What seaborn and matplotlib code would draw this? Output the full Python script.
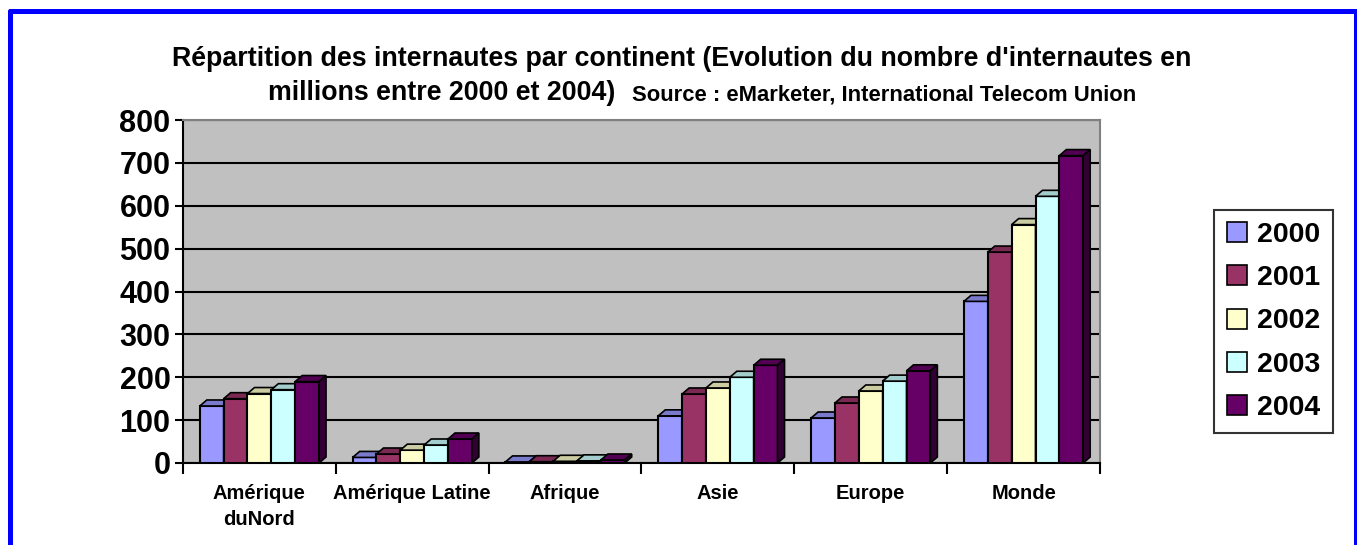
import numpy as np
import pandas as pd
import matplotlib
matplotlib.use("Agg")
import matplotlib.pyplot as plt
import matplotlib.colors as mcolors
from matplotlib.patches import Polygon
from matplotlib.lines import Line2D
import seaborn as sns

# data (millions d'internautes)
continents = ["Amérique\nduNord", "Amérique Latine", "Afrique", "Asie", "Europe", "Monde"]
years = ["2000", "2001", "2002", "2003", "2004"]
v2000 = [133, 13, 2.5, 110, 105, 377]
v2001 = [150, 21, 3, 161, 140, 492]
v2002 = [162, 30, 4, 175, 168, 556]
v2003 = [171, 42, 5, 200, 191, 622]
v2004 = [190, 56, 7, 228, 215, 717]
colors = ["#9999FF", "#993366", "#FFFFCC", "#CCFFFF", "#660066"]

rows = []
for yr, vals in zip(years, [v2000, v2001, v2002, v2003, v2004]):
    for c, v in zip(continents, vals):
        rows.append({"continent": c, "annee": yr, "valeur": v})
df = pd.DataFrame(rows)

sns.set_theme(style="white")
plt.rcParams["font.family"] = ["Liberation Sans", "DejaVu Sans"]
plt.rcParams["text.color"] = "black"
plt.rcParams["xtick.color"] = "black"
plt.rcParams["ytick.color"] = "black"

W, H = 1357, 545
fig = plt.figure(figsize=(W / 100, H / 100), dpi=100)
ax_l, ax_r, ax_t, ax_b = 183, 1100, 120, 463
ax = fig.add_axes([ax_l / W, 1 - ax_b / H, (ax_r - ax_l) / W, (ax_b - ax_t) / H])
ax.set_facecolor("#C0C0C0")

sns.barplot(data=df, x="continent", y="valeur", hue="annee", palette=colors,
            width=0.78, saturation=1, edgecolor="black", linewidth=1.5, ax=ax)

ax.set_xlim(-0.5, 5.5)
ax.set_ylim(0, 800)

# fake 3D tops / sides like the old excel chart
dx = 7 / ((ax_r - ax_l) / 6)
dy = 6 / ((ax_b - ax_t) / 800)
for k, cont in enumerate(ax.containers):
    base = np.array(mcolors.to_rgb(colors[k]))
    for bar in cont:
        x, w, h = bar.get_x(), bar.get_width(), bar.get_height()
        bar.set_zorder(3 + k)
        top = Polygon([(x, h), (x + w, h), (x + w + dx, h + dy), (x + dx, h + dy)],
                      closed=True, fc=base * 0.8, ec="black", lw=1.2, zorder=3 + k)
        side = Polygon([(x + w, 0), (x + w, h), (x + w + dx, h + dy), (x + w + dx, dy)],
                       closed=True, fc=base * 0.5, ec="black", lw=1.2, zorder=3 + k)
        ax.add_patch(top)
        ax.add_patch(side)

ax.set_yticks(range(0, 900, 100))
ax.set_yticklabels([str(v) for v in range(0, 900, 100)], fontsize=22, fontweight="bold")
ax.yaxis.grid(True, color="black", lw=1.5)
ax.set_axisbelow(True)
ax.tick_params(axis="y", length=6, width=1.5, direction="out", color="black", pad=3, left=True)

ax.set_xticks(range(len(continents)))
ax.set_xticklabels(continents, fontsize=14.5, fontweight="bold", linespacing=1.45)
ax.set_xticks(np.arange(-0.5, 6, 1), minor=True)
ax.tick_params(axis="x", which="major", length=0, pad=15)
ax.tick_params(axis="x", which="minor", length=8, width=1.5, direction="out", color="black", bottom=True)
ax.set_xlabel("")
ax.set_ylabel("")

for s in ["top", "right"]:
    ax.spines[s].set_color("#808080")
    ax.spines[s].set_linewidth(1.5)
for s in ["left", "bottom"]:
    ax.spines[s].set_color("black")
    ax.spines[s].set_linewidth(1.5)

handles, labels = ax.get_legend_handles_labels()
leg = ax.legend(handles, labels, bbox_to_anchor=(1273.5 / W, 1 - 321.5 / H), bbox_transform=fig.transFigure,
                loc="center", prop={"weight": "bold", "size": 20.5}, frameon=True, fancybox=False,
                edgecolor="black", handlelength=0.7, handleheight=0.7, labelspacing=0.6,
                handletextpad=0.35, borderpad=0.45, borderaxespad=0)
leg.get_frame().set_linewidth(1.5)
for hd in leg.legend_handles:
    hd.set_edgecolor("black")
    hd.set_linewidth(1.2)

fig.text(682 / W, 1 - 66 / H,
         "Répartition des internautes par continent (Evolution du nombre d'internautes en",
         ha="center", va="baseline", fontsize=19.3, fontweight="bold")
fig.text(615 / W, 1 - 100 / H, "millions entre 2000 et 2004)",
         ha="right", va="baseline", fontsize=19.3, fontweight="bold")
fig.text(632 / W, 1 - 100 / H, "Source : eMarketer, International Telecom Union",
         ha="left", va="baseline", fontsize=15.8, fontweight="bold")

# blue frame (no bottom edge in the reference)
lw = 5 * 72 / 100
fig.add_artist(Line2D([9.5 / W, 1355.5 / W], [1 - 10.5 / H, 1 - 10.5 / H], color="blue", lw=lw, transform=fig.transFigure))
fig.add_artist(Line2D([9.5 / W, 9.5 / W], [0, 1 - 10.5 / H], color="blue", lw=lw, transform=fig.transFigure))
fig.add_artist(Line2D([1355.5 / W, 1355.5 / W], [0, 1 - 10.5 / H], color="blue", lw=lw, transform=fig.transFigure))

fig.savefig("out.png", dpi=100)
